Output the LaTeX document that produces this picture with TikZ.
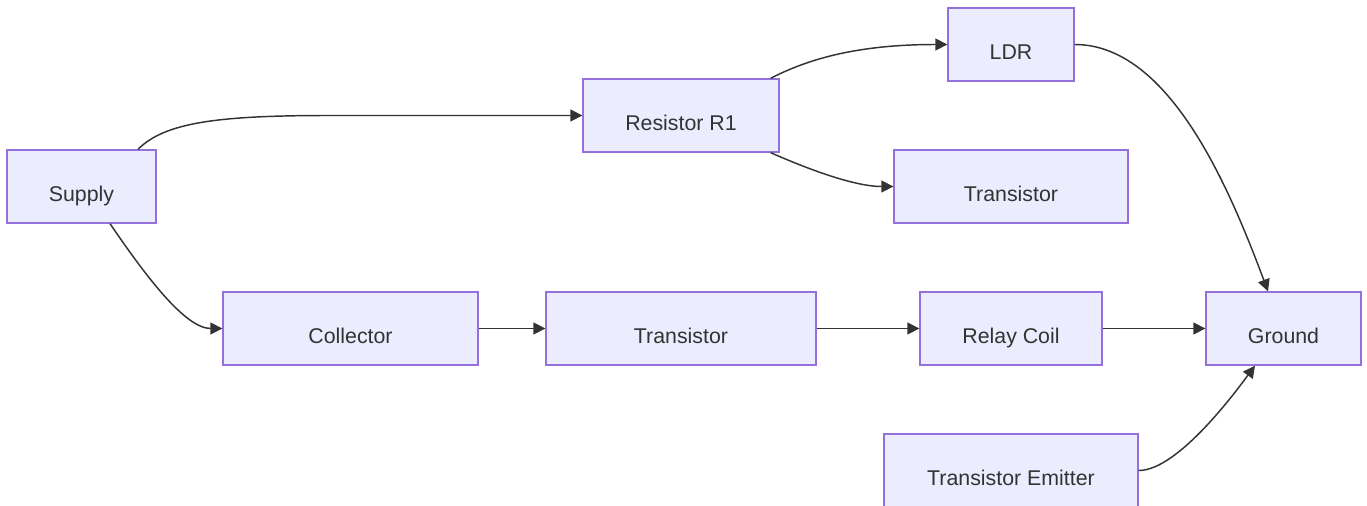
\documentclass[tikz,border=0pt]{standalone}
\usepackage{fontspec}
\setmainfont{Liberation Sans}
\usepackage{tikz}
\usetikzlibrary{arrows.meta}
\definecolor{boxfill}{HTML}{ECECFF}
\definecolor{boxline}{HTML}{9370DB}
\definecolor{ink}{HTML}{333333}

\begin{document}
\begin{tikzpicture}
    [
    x=0.75pt, y=-0.75pt,
    block/.style={rectangle,draw=boxline,fill=boxfill,line width=1pt,minimum height=54.75pt,
      text=ink,font=\fontsize{16}{19}\selectfont,text height=22.5pt,text depth=0pt},
    edge/.style={draw=ink,line width=1.1pt,-{Triangle[length=9pt,width=9pt]}},
    ]
    \useasboundingbox (0,0) rectangle (1367,506);

    \node (supply) at (81.5,186.5) [block, minimum width=111.75pt] {Supply};
    \node (r1) at (681,115.5) [block, minimum width=147pt] {Resistor R1};
    \node (ldr) at (1011,44.5) [block, minimum width=94.5pt] {LDR};
    \node (t1) at (1011,186.5) [block, minimum width=175.5pt] {Transistor};
    \node (coll) at (350.5,328.5) [block, minimum width=191.25pt] {Collector};
    \node (t2) at (681,328.5) [block, minimum width=202.5pt] {Transistor};
    \node (relay) at (1011,328.5) [block, minimum width=136.5pt] {Relay Coil};
    \node (gnd) at (1283.5,328.5) [block, minimum width=116.25pt] {Ground};
    \node (emit) at (1011,470.5) [block, minimum width=190.5pt] {Transistor Emitter};

    \draw [edge] ([xshift=42.4pt]supply.north) .. controls (165,122) and (220,115.5) .. (330,115.5) -- (r1.west);
    \draw [edge] ([xshift=21.4pt]supply.south) .. controls (145,275) and (185,328.5) .. (coll.west);
    \draw [edge] ([xshift=-6.75pt]r1.north east) .. controls (810,58) and (860,44.5) .. (ldr.west);
    \draw [edge] ([xshift=-6.75pt]r1.south east) .. controls (810,170) and (855,186.5) .. (t1.west);
    \draw [edge] (ldr.east) .. controls (1170,44.5) and (1230,190) .. ([xshift=-11.6pt]gnd.north);
    \draw [edge] (coll) -- (t2);
    \draw [edge] (t2) -- (relay);
    \draw [edge] (relay) -- (gnd);
    \draw [edge] (emit.east) .. controls (1170,470.5) and (1215,420) .. ([xshift=-21.4pt]gnd.south);
  \end{tikzpicture}
\end{document}
